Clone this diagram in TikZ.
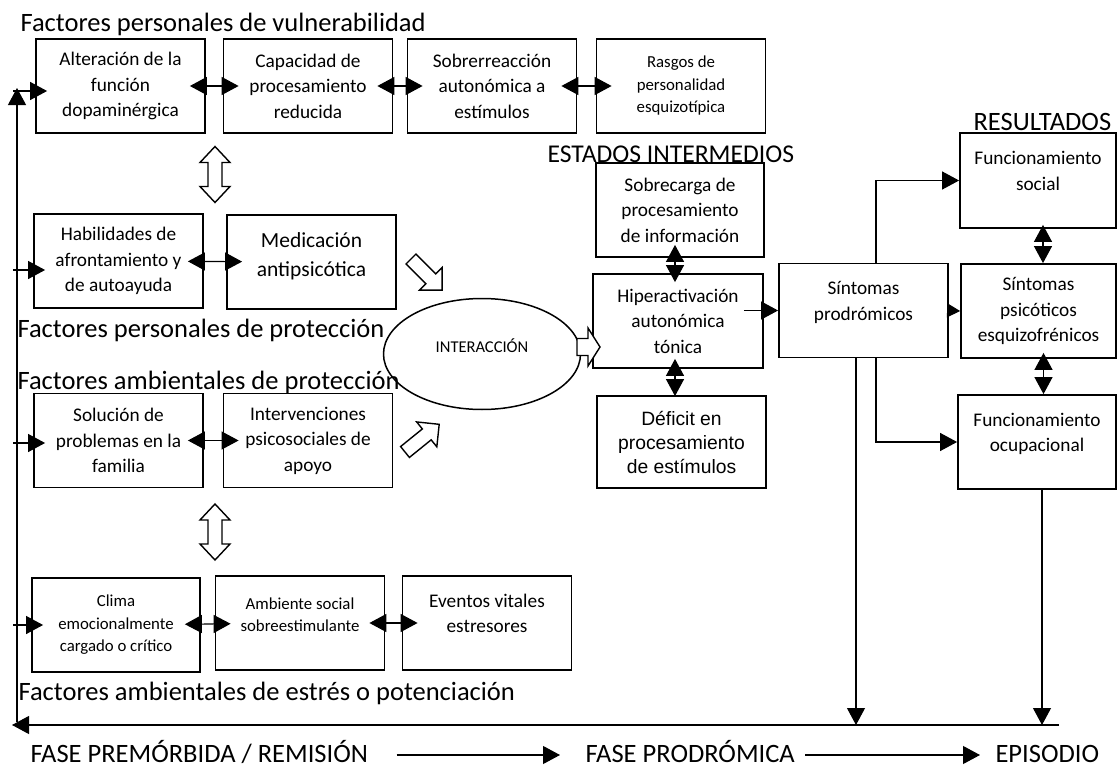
\documentclass[tikz,border=0pt]{standalone}
\usepackage{fontspec}
\setmainfont{Carlito}
\newfontfamily\arialfont{Liberation Sans}
\usetikzlibrary{arrows.meta,shapes.geometric,calc}

\tikzset{
  caja/.style={draw,line width=1.8pt,minimum width=169pt,minimum height=94pt,inner sep=1pt,align=center,font=\fontsize{19.3}{25.5}\selectfont},
  cajachica/.style={caja,font=\fontsize{16.8}{22.5}\selectfont},
  titulo/.style={anchor=west,inner sep=0pt,font=\fontsize{26.5}{30}\selectfont},
  fase/.style={titulo,anchor=base west},
  hueca/.style={draw,line width=1.4pt,fill=white,line join=miter},
  doble/.style={<->,shorten <=-16pt,shorten >=-16pt},
  entrada/.style={->,shorten >=-12pt},
  bloque/.pic={\draw[hueca] (0,-7)--(28,-7)--(28,-16)--(44,0)--(28,16)--(28,7)--(0,7)--cycle;},
  bloquedoble/.pic={\draw[hueca] (0,-28)--(15,-12)--(7,-12)--(7,12)--(15,12)--(0,28)--(-15,12)--(-7,12)--(-7,-12)--(-15,-12)--cycle;}
}

\begin{document}
\begin{tikzpicture}[x=1pt,y=-1pt,>={Triangle[length=17pt,width=18pt]},line width=1.1pt]
  \useasboundingbox (0,0) rectangle (1117,768);
  % factores personales de vulnerabilidad
  \node[titulo] (tvul) at (20,24) {Factores personales de vulnerabilidad};
  \node[caja] (alt) at (120.5,86) {Alteración de la\\ función\\ dopaminérgica};
  \node[caja] (cap) at (308,86) {Capacidad de\\ procesamiento\\ reducida};
  \node[caja] (sob) at (492,86) {Sobrerreacción\\ autonómica a\\ estímulos};
  \node[cajachica] (ras) at (681,86) {Rasgos de\\ personalidad\\ esquizotípica};
  % factores personales de protección
  \node[caja] (hab) at (118.5,261) {Habilidades de\\ afrontamiento y\\ de autoayuda};
  \node[caja,font=\fontsize{21.5}{29}\selectfont] (med) at (311.5,262) {Medicación\\ antipsicótica\\[-22pt]\strut};
  \node[titulo] (tprot) at (17,330) {Factores personales de protección};
  \node[titulo] (tamb) at (17,382) {Factores ambientales de protección};
  % factores ambientales de protección
  \node[caja] (sol) at (118.5,440.5) {Solución de\\ problemas en la\\ familia};
  \node[caja] (int) at (308,440.5) {Intervenciones\\ psicosociales de\\ apoyo};
  % factores ambientales de estrés
  \node[cajachica,minimum width=168pt] (cli) at (116,625) {Clima\\ emocionalmente\\ cargado o crítico};
  \node[cajachica] (amb) at (300,623) {Ambiente social\\ sobreestimulante\\[-13pt]\strut};
  \node[caja] (eve) at (487,623) {Eventos vitales\\ estresores\\[-14pt]\strut};
  \node[titulo] (testr) at (18,693) {Factores ambientales de estrés o potenciación};
  % interacción y estados intermedios
  \node[draw,ellipse,line width=1.5pt,minimum width=197pt,minimum height=111pt,align=center,font=\fontsize{16.5}{22}\selectfont] (inter) at (482,354) {INTERACCIÓN\\[-12pt]\strut};
  \node[titulo,font=\fontsize{25.6}{30}\selectfont] (tint) at (547,154) {ESTADOS INTERMEDIOS};
  \node[caja,minimum width=168pt] (sobc) at (680,210) {Sobrecarga de\\ procesamiento\\ de información};
  \node[caja,minimum width=170pt] (hip) at (678,321) {Hiperactivación\\ autonómica\\ tónica};
  \node[caja,minimum height=92pt,font=\arialfont\fontsize{19.3}{24}\selectfont] (def) at (681.5,442) {Déficit en\\ procesamiento\\ de estímulos};
  % resultados
  \node[titulo] (tres) at (973,122) {RESULTADOS};
  \node[caja] (pro) at (863.5,310.5) {Síntomas\\ prodrómicos\\[-14pt]\strut};
  \node[caja,minimum width=156pt,minimum height=95pt] (fso) at (1038,180.5) {Funcionamiento\\ social\\[-14pt]\strut};
  \node[caja,minimum width=155pt] (psi) at (1038.5,311) {Síntomas\\ psicóticos\\ esquizofrénicos};
  \node[caja,minimum width=158pt] (foc) at (1037,442) {Funcionamiento\\ ocupacional\\[-14pt]\strut};
  % fases
  \node[fase] (fpre) at (30,762.5) {FASE PREMÓRBIDA / REMISIÓN};
  \node[fase] (fpro) at (585,762.5) {FASE PRODRÓMICA};
  \node[fase] (fepi) at (995,762.5) {EPISODIO};
  % eje temporal
  \coordinate (ejeD) at (1059,725);
  \coordinate (ejeI) at (12,725);
  \coordinate (ejeS) at (17,88);
  \coordinate (ejeB) at (17,722);
  \coordinate (borde) at (13,0);
  \draw[->] (ejeD) -- (ejeI);
  \draw[->] (ejeB) -- (ejeS);
  \draw[entrada] ([yshift=-5pt]borde |- alt.west) -- ([yshift=-5pt]alt.west);
  \draw[entrada] ([yshift=-9pt]borde |- hab.west) -- ([yshift=-9pt]hab.west);
  \draw[entrada] ([yshift=-2.5pt]borde |- sol.west) -- ([yshift=-2.5pt]sol.west);
  \draw[entrada] (borde |- cli.west) -- (cli.west);
  % relaciones entre factores
  \draw[doble] (alt) -- (cap);
  \draw[doble] (cap) -- (sob);
  \draw[doble] (sob) -- (ras);
  \draw[doble] (hab) -- (med);
  \draw[doble] (sol) -- (int);
  \draw[doble] (cli) -- (amb);
  \draw[doble] (amb) -- (eve);
  % flechas huecas
  \pic at (215,174.5) {bloquedoble};
  \pic at (215,532) {bloquedoble};
  \pic[rotate=-45] at (411,259) {bloque};
  \pic[rotate=39] at (405,452) {bloque};
  \draw[hueca] (577,338.5)--(588,338.5)--(588,328)--(600,347)--(588,366)--(588,355.5)--(577,355.5)--cycle;
  % estados intermedios
  \draw[<->,shorten <=-13pt,shorten >=-9pt] ([xshift=-5pt]sobc.south) -- ([xshift=-5pt]sobc.south |- hip.north);
  \draw[<->,shorten <=-10pt,shorten >=-1pt] ([xshift=-3pt]hip.south) -- ([xshift=-3pt]hip.south |- def.north);
  \draw[->] ($(hip.east |- pro.west)+(-20,0)$) -- (pro.west);
  % resultados
  \draw[-{Triangle[length=13pt,width=14pt]}] (pro.east) -- (psi.west);
  \draw[->] ([xshift=12.5pt]pro.north) |- (fso.west);
  \draw[->] ([xshift=12.5pt]pro.south) |- (foc.west);
  \draw[<->,shorten <=-4pt] ([xshift=5pt]fso.south) -- ([xshift=5pt]fso.south |- psi.north);
  \draw[<->,shorten <=-6pt] ([xshift=5pt]psi.south) -- ([xshift=5pt]psi.south |- foc.north);
  \draw[->] ([xshift=-7.5pt]pro.south) -- ([xshift=-7.5pt]pro.south |- ejeD);
  \draw[->] ([xshift=5pt]foc.south) -- ([xshift=5pt]foc.south |- ejeD);
  % fases
  \draw[->,shorten <=28pt,shorten >=25pt] ([yshift=7.5pt]fpre.base east) -- ([yshift=7.5pt]fpro.base west);
  \draw[->,shorten <=10pt,shorten >=15pt] ([yshift=7.5pt]fpro.base east) -- ([yshift=7.5pt]fepi.base west);
\end{tikzpicture}
\end{document}
